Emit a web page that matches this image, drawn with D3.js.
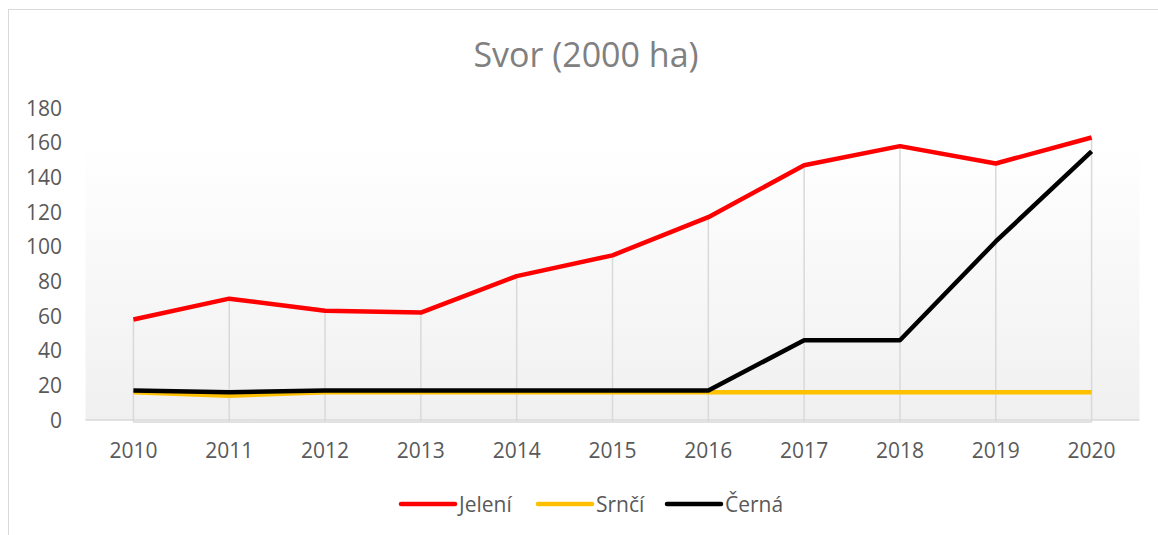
<!doctype html>
<html lang="cs">

<head>
  <meta charset="utf-8">
  <title>Svor (2000 ha)</title>
</head>

<body style="margin:0; overflow:hidden; background:#fff">
  <script src="https://cdn.jsdelivr.net/npm/d3@7/dist/d3.min.js"></script>
  <script type="text/javascript">

    // data
    let years = ["2010", "2011", "2012", "2013", "2014", "2015", "2016", "2017", "2018", "2019", "2020"]
    let jeleni = [58, 70, 63, 62, 83, 95, 117, 147, 158, 148, 163]
    let srnci = [16, 14, 16, 16, 16, 16, 16, 16, 16, 16, 16]
    let cerna = [17, 16, 17, 17, 17, 17, 17, 46, 46, 103, 155]
    let yTicks = [0, 20, 40, 60, 80, 100, 120, 140, 160, 180]

    let series = [
      { name: "Jelení", values: jeleni, color: "#ff0000" },
      { name: "Srnčí", values: srnci, color: "#ffc000" },
      { name: "Černá", values: cerna, color: "#000000" }
    ]

    let config = {
      width: 1158,
      height: 535,
      left: 85.5,
      right: 1139.5,
      top: 108,
      bottom: 420,
      font: "'Open Sans', 'Noto Sans', sans-serif",
      textColor: "#595959"
    }

    let svg = d3.select("body").append("svg")
      .attr("width", config.width)
      .attr("height", config.height)
      .attr("xmlns", "http://www.w3.org/2000/svg")
      .style("font-family", config.font)

    // chart border
    svg.append("rect")
      .attr("x", 8.5).attr("y", 9.5)
      .attr("width", 1170).attr("height", 560)
      .attr("fill", "#fff")
      .attr("stroke", "#d9d9d9")

    let xScale = d3.scalePoint()
      .domain(years)
      .range([config.left, config.right])
      .padding(0.5)

    let yScale = d3.scaleLinear()
      .domain([0, 180])
      .range([config.bottom, config.top])

    // plot area gradient
    let grad = svg.append("defs").append("linearGradient")
      .attr("id", "wall")
      .attr("x1", 0).attr("y1", 0).attr("x2", 0).attr("y2", 1)
    grad.append("stop").attr("offset", "0%").attr("stop-color", "#ffffff")
    grad.append("stop").attr("offset", "100%").attr("stop-color", "#f0f0f0")

    svg.append("rect")
      .attr("x", config.left)
      .attr("y", yScale(160))
      .attr("width", config.right - config.left)
      .attr("height", config.bottom - yScale(160))
      .attr("fill", "url(#wall)")

    svg.append("line")
      .attr("x1", config.left).attr("x2", config.right)
      .attr("y1", config.bottom).attr("y2", config.bottom)
      .attr("stroke", "#d9d9d9").attr("stroke-width", 1.5)

    svg.append("line")
      .attr("x1", xScale(years[0])).attr("x2", xScale(years[years.length - 1]))
      .attr("y1", config.bottom + 2).attr("y2", config.bottom + 2)
      .attr("stroke", "#d9d9d9").attr("stroke-width", 1.5)

    // drop lines from the top series down to the axis
    svg.append("g")
      .selectAll("line")
      .data(years)
      .enter()
      .append("line")
      .attr("x1", d => xScale(d)).attr("x2", d => xScale(d))
      .attr("y1", (d, i) => yScale(d3.max(series, s => s.values[i])))
      .attr("y2", config.bottom + 2)
      .attr("stroke", "#d9d9d9")
      .attr("stroke-width", 1.5)

    // y labels
    svg.append("g")
      .selectAll("text")
      .data(yTicks)
      .enter()
      .append("text")
      .attr("x", 62)
      .attr("y", d => yScale(d) + 7.5)
      .attr("text-anchor", "end")
      .attr("font-size", 21)
      .attr("fill", config.textColor)
      .text(d => d)

    // x labels
    svg.append("g")
      .selectAll("text")
      .data(years)
      .enter()
      .append("text")
      .attr("x", d => xScale(d))
      .attr("y", 458)
      .attr("text-anchor", "middle")
      .attr("font-size", 21)
      .attr("fill", config.textColor)
      .text(d => d)

    let line = d3.line()
      .x((d, i) => xScale(years[i]))
      .y(d => yScale(d))

    svg.append("g")
      .selectAll("path")
      .data(series)
      .enter()
      .append("path")
      .attr("d", d => line(d.values))
      .attr("fill", "none")
      .attr("stroke", d => d.color)
      .attr("stroke-width", 4.5)
      .attr("stroke-linejoin", "round")
      .attr("stroke-linecap", "butt")

    // title
    svg.append("text")
      .attr("x", 586)
      .attr("y", 67)
      .attr("text-anchor", "middle")
      .attr("font-size", 34)
      .attr("fill", "#808080")
      .text("Svor (2000 ha)")

    // legend
    let legendX = [401, 538, 667]
    let legend = svg.append("g")
      .selectAll("g")
      .data(series)
      .enter()
      .append("g")
      .attr("transform", (d, i) => `translate(${legendX[i]},504)`)

    legend.append("line")
      .attr("x1", 0).attr("x2", 54)
      .attr("stroke", d => d.color)
      .attr("stroke-width", 4.5)
      .attr("stroke-linecap", "round")

    legend.append("text")
      .attr("x", 58)
      .attr("y", 7.5)
      .attr("font-size", 21)
      .attr("fill", config.textColor)
      .text(d => d.name)

  </script>
</body>

</html>
